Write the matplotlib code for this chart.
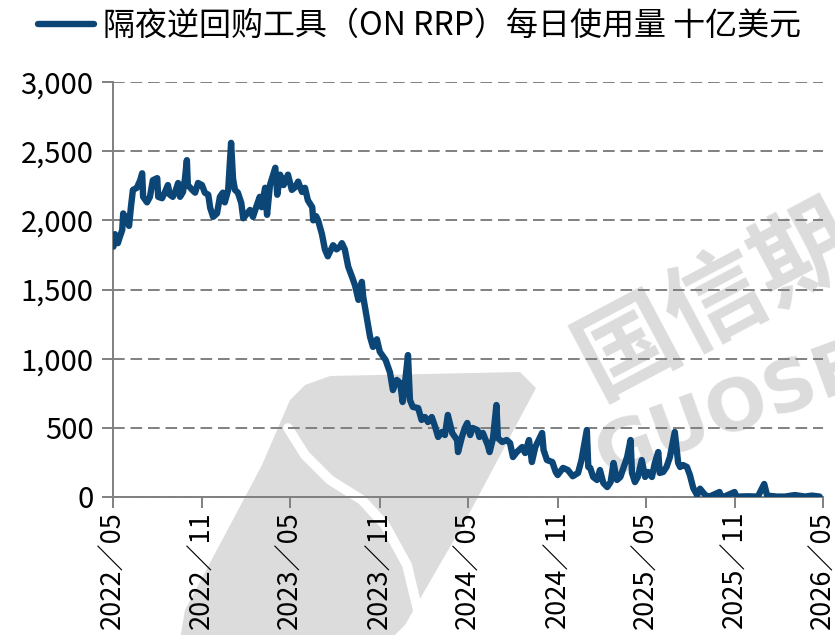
import matplotlib

matplotlib.use("Agg")
import matplotlib.pyplot as plt
import pandas as pd
from matplotlib.patches import Polygon

plt.rcParams["font.family"] = ["Noto Sans CJK SC", "DejaVu Sans"]

# ON RRP daily usage, billion USD
dates = [
    "2022-05-02", "2022-05-05", "2022-05-11", "2022-05-15", "2022-05-20", "2022-05-22",
    "2022-05-26", "2022-05-30", "2022-06-03", "2022-06-07", "2022-06-11", "2022-06-19",
    "2022-06-26", "2022-06-30", "2022-07-02", "2022-07-10", "2022-07-16", "2022-07-22",
    "2022-07-31", "2022-08-02", "2022-08-10", "2022-08-16", "2022-08-22", "2022-08-26",
    "2022-09-01", "2022-09-06", "2022-09-12", "2022-09-16", "2022-09-22", "2022-09-26",
    "2022-09-30", "2022-10-02", "2022-10-11", "2022-10-17", "2022-10-23", "2022-10-31",
    "2022-11-06", "2022-11-13", "2022-11-17", "2022-11-23", "2022-12-01", "2022-12-07",
    "2022-12-13", "2022-12-17", "2022-12-24", "2022-12-30", "2023-01-03", "2023-01-07",
    "2023-01-13", "2023-01-20", "2023-01-24", "2023-02-01", "2023-02-07", "2023-02-13",
    "2023-02-21", "2023-02-27", "2023-03-03", "2023-03-10", "2023-03-14", "2023-03-20",
    "2023-03-31", "2023-04-04", "2023-04-10", "2023-04-17", "2023-04-26", "2023-05-04",
    "2023-05-11", "2023-05-17", "2023-05-25", "2023-05-31", "2023-06-06", "2023-06-15",
    "2023-06-17", "2023-06-23", "2023-06-27", "2023-07-05", "2023-07-11", "2023-07-17",
    "2023-07-21", "2023-07-28", "2023-08-04", "2023-08-11", "2023-08-15", "2023-08-21",
    "2023-08-28", "2023-09-05", "2023-09-11", "2023-09-18", "2023-09-25", "2023-09-28",
    "2023-10-06", "2023-10-12", "2023-10-18", "2023-10-26", "2023-11-01", "2023-11-13",
    "2023-11-22", "2023-11-28", "2023-12-06", "2023-12-13", "2023-12-18", "2023-12-22",
    "2023-12-29", "2024-01-02", "2024-01-08", "2024-01-19", "2024-01-26", "2024-02-02",
    "2024-02-08", "2024-02-16", "2024-02-23", "2024-02-29", "2024-03-08", "2024-03-14",
    "2024-03-20", "2024-03-29", "2024-04-08", "2024-04-10", "2024-04-18", "2024-04-24",
    "2024-04-29", "2024-05-05", "2024-05-10", "2024-05-20", "2024-05-24", "2024-05-31",
    "2024-06-10", "2024-06-14", "2024-06-21", "2024-06-28", "2024-07-01", "2024-07-10",
    "2024-07-19", "2024-07-26", "2024-08-01", "2024-08-09", "2024-08-20", "2024-08-26",
    "2024-09-03", "2024-09-09", "2024-09-16", "2024-09-30", "2024-10-03", "2024-10-10",
    "2024-10-21", "2024-10-28", "2024-11-01", "2024-11-12", "2024-11-22", "2024-12-02",
    "2024-12-13", "2024-12-20", "2024-12-31", "2025-01-03", "2025-01-07", "2025-01-13",
    "2025-01-21", "2025-01-27", "2025-02-03", "2025-02-11", "2025-02-18", "2025-02-24",
    "2025-03-03", "2025-03-10", "2025-03-17", "2025-03-24", "2025-03-31", "2025-04-03",
    "2025-04-09", "2025-04-15", "2025-04-23", "2025-04-30", "2025-05-06", "2025-05-14",
    "2025-05-20", "2025-05-27", "2025-05-30", "2025-06-06", "2025-06-13", "2025-06-20",
    "2025-06-30", "2025-07-07", "2025-07-11", "2025-07-17", "2025-07-25", "2025-07-31",
    "2025-08-07", "2025-08-15", "2025-08-21", "2025-08-29", "2025-09-04", "2025-09-12",
    "2025-09-30", "2025-10-03", "2025-10-10", "2025-10-31", "2025-11-04", "2025-11-27",
    "2025-12-18", "2025-12-31", "2026-01-06", "2026-01-26", "2026-02-12", "2026-03-04",
    "2026-03-25", "2026-04-08", "2026-04-24",
]
rrp = [
    1810, 1900, 1835, 1880, 1930, 2050,
    2000, 2025, 1960, 2100, 2220, 2235,
    2290, 2340, 2170, 2130, 2170, 2290,
    2305, 2170, 2160, 2205, 2255, 2185,
    2170, 2205, 2270, 2170, 2205, 2300,
    2435, 2255, 2220, 2200, 2270, 2255,
    2200, 2185, 2090, 2025, 2050, 2170,
    2200, 2130, 2220, 2560, 2300, 2220,
    2200, 2125, 2015, 2050, 2075, 2025,
    2110, 2170, 2095, 2235, 2040, 2255,
    2380, 2185, 2330, 2255, 2330, 2220,
    2240, 2280, 2205, 2235, 2145, 2095,
    2000, 2030, 2000, 1900, 1790, 1740,
    1770, 1820, 1790, 1810, 1835, 1790,
    1665, 1590, 1530, 1425, 1555, 1445,
    1280, 1157, 1085, 1140, 1050, 990,
    900, 773, 846, 824, 687, 795,
    1026, 701, 651, 643, 557, 578,
    542, 578, 506, 434, 470, 448,
    593, 463, 412, 325, 434, 500,
    535, 448, 499, 484, 434, 463,
    376, 325, 426, 665, 426, 398,
    412, 390, 289, 325, 361, 318,
    412, 253, 361, 463, 340, 267,
    253, 181, 159, 210, 195, 150,
    174, 267, 484, 217, 210, 145,
    123, 195, 101, 72, 108, 246,
    123, 145, 217, 289, 412, 174,
    108, 145, 267, 145, 181, 145,
    246, 325, 174, 181, 217, 289,
    470, 246, 217, 231, 217, 160,
    65, 14, 60, 25, 5, 7,
    36, 5, 3, 36, 3, 5,
    3, 94, 10, 3, 3, 14,
    3, 10, 3,
]

series_label = "隔夜逆回购工具（ON RRP）每日使用量 十亿美元"
y_ticks = [0, 500, 1000, 1500, 2000, 2500, 3000]
x_ticks = ["2022-05", "2022-11", "2023-05", "2023-11", "2024-05",
           "2024-11", "2025-05", "2025-11", "2026-05"]

LINE = "#0b4677"
GRID = "#808080"
W, H = 835, 635


def px(x, y):
    # pixel (from top-left) -> figure fraction
    return x / W, 1 - y / H


fig = plt.figure(figsize=(8.35, 6.35), dpi=100)
ax = fig.add_axes([113 / W, 1 - 497 / H, 710 / W, 415 / H])
ax.patch.set_alpha(0)

# faint watermark behind the plot
wm = "#dcdcdc"
shape = [(305, 385), (330, 376), (520, 372), (536, 388), (470, 512),
         (405, 625), (390, 640), (180, 640), (185, 610), (262, 465), (290, 400)]
fig.add_artist(Polygon([px(*p) for p in shape], closed=True, transform=fig.transFigure,
                       facecolor=wm, edgecolor="none", zorder=-5))
arc = [(288, 428), (305, 455), (330, 480), (362, 500), (385, 525), (407, 565), (425, 640)]
fig.add_artist(plt.Line2D([px(*p)[0] for p in arc], [px(*p)[1] for p in arc],
                          transform=fig.transFigure, color="white", lw=7, zorder=-4,
                          solid_capstyle="round"))
fx, fy = px(598, 398)
fig.text(fx, fy, "国信期货", fontsize=72, fontweight="bold", color=wm, rotation=28,
         rotation_mode="anchor", ha="left", va="baseline", zorder=-3)
fx, fy = px(605, 478)
fig.text(fx, fy, "GUOSEN", fontsize=52, fontweight="bold", color=wm, rotation=20,
         rotation_mode="anchor", ha="left", va="baseline", zorder=-3,
         family="DejaVu Sans")

x = pd.to_datetime(dates)
ax.plot(x, rrp, color=LINE, lw=4.6, solid_joinstyle="round", solid_capstyle="round",
        zorder=3, label=series_label)

ax.set_ylim(0, 3000)
ax.set_xlim(pd.Timestamp("2022-05-01"), pd.Timestamp("2026-05-01"))
ax.set_yticks(y_ticks)
ax.set_yticklabels([f"{v:,}" for v in y_ticks], fontsize=21)
xt = pd.to_datetime(x_ticks)
ax.set_xticks(xt)
ax.set_xticklabels([d.strftime("%Y／%m") for d in xt], rotation=90, fontsize=19.5)

ax.yaxis.grid(True, color=GRID, lw=1.4, linestyle=(0, (6, 3)))
ax.set_axisbelow(True)
for s in ("top", "right"):
    ax.spines[s].set_visible(False)
for s in ("left", "bottom"):
    ax.spines[s].set_color(GRID)
    ax.spines[s].set_linewidth(1.4)
ax.tick_params(axis="both", colors=GRID, width=1.4, length=8, labelcolor="black")
ax.tick_params(axis="y", pad=6)
ax.tick_params(axis="x", pad=2)

lx, ly = px(38, 10)
fig.legend(loc="upper left", bbox_to_anchor=(lx, ly), frameon=False, fontsize=23,
           handlelength=1.75, handletextpad=0.3, borderpad=0, borderaxespad=0)

fig.savefig("out.png", dpi=100)
